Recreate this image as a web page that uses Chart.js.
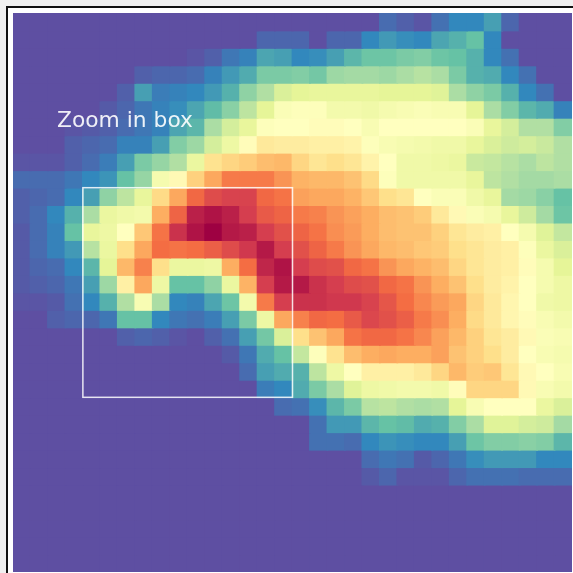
<!DOCTYPE html>
<html>
<head>
<meta charset="utf-8">
<script src="https://cdn.jsdelivr.net/npm/chart.js@4"></script>
<style>
    html, body { margin: 0; padding: 0; width: 573px; height: 573px; overflow: hidden; background: #f0f0f0; }
    #frame { position: absolute; left: 6px; top: 6px; width: 567px; height: 567px; border-left: 2px solid #111; border-top: 2px solid #111; background: #fff; }
    #chart { display: block; filter: blur(0.6px); }
</style>
</head>
<body>
<div id="frame"><canvas id="chart" width="565" height="565"></canvas></div>
<script>
// Cell intensities, 0 = purple end of the colormap, 100 = dark red end
const row00 = [0,0,0,0,0,0,0,0,0,0,0,0,0,0,0,0,0,0,0,0,0,5,3,1,6,10,10,14,4,0,0,0];
const row01 = [0,0,0,0,0,0,0,0,0,0,0,0,0,0,4,4,4,0,4,4,10,13,11,10,15,17,20,10,0,0,0,0];
const row02 = [0,0,0,0,0,0,0,0,0,0,1,3,7,9,15,14,10,11,14,18,21,21,23,24,21,20,17,10,6,0,0,0];
const row03 = [0,0,0,0,0,0,0,3,4,4,5,9,13,16,23,23,24,22,28,29,29,28,30,32,30,23,17,16,10,6,0,0];
const row04 = [0,0,0,0,0,0,3,14,8,9,10,13,17,26,31,38,40,41,41,41,41,40,40,40,39,30,26,23,17,10,6,0];
const row05 = [0,0,0,0,0,2,4,7,9,11,15,19,25,33,40,48,49,49,45,45,44,46,47,48,47,47,40,30,24,18,16,9];
const row06 = [0,0,0,1,2,3,5,7,9,15,18,30,37,41,49,50,50,51,51,50,47,50,50,50,50,50,48,41,37,31,31,24];
const row07 = [0,0,0,3,4,5,9,9,14,24,28,37,43,51,57,56,56,55,55,54,49,47,46,45,44,44,41,38,36,37,35,31];
const row08 = [1,1,1,3,5,8,14,23,27,31,42,59,62,64,67,68,62,58,60,58,54,50,44,44,43,42,35,34,32,30,33,31];
const row09 = [5,5,5,7,10,12,20,27,46,52,63,71,78,78,78,74,69,68,68,66,61,49,44,44,44,44,41,33,31,29,29,30];
const row10 = [3,4,5,10,14,26,33,41,61,71,81,87,89,89,81,79,72,71,71,69,65,60,58,50,48,48,44,41,29,28,25,20];
const row11 = [3,5,10,17,30,42,44,45,70,82,95,97,95,90,84,82,78,77,74,72,70,67,66,64,57,52,48,46,41,36,29,21];
const row12 = [2,5,9,20,41,43,50,65,79,92,97,100,96,95,90,86,82,79,75,73,70,67,66,66,63,58,56,55,50,46,39,34];
const row13 = [2,5,9,13,32,42,60,71,80,79,80,83,87,91,96,90,86,82,78,74,71,68,67,65,64,60,58,56,55,49,42,38];
const row14 = [2,4,5,10,18,40,68,77,60,42,42,43,70,80,94,97,90,87,86,81,79,74,71,69,67,62,58,56,55,51,46,40];
const row15 = [2,3,4,7,14,28,55,71,43,20,20,26,42,69,90,96,96,92,90,87,86,81,79,74,70,66,60,56,54,50,46,43];
const row16 = [1,1,2,6,10,17,31,47,30,10,9,15,21,45,78,90,92,92,91,91,89,85,80,76,73,71,62,57,53,50,44,43];
const row17 = [0,0,3,4,4,7,20,20,10,7,6,8,14,23,43,71,77,81,80,84,88,86,83,78,75,70,61,57,53,51,47,45];
const row18 = [0,0,0,0,0,0,3,4,3,1,0,3,6,14,22,38,60,66,71,79,81,81,79,76,72,68,63,58,56,52,48,47];
const row19 = [0,0,0,0,0,0,0,0,0,0,0,0,2,7,16,20,34,49,59,67,70,71,70,70,72,66,63,60,56,50,47,46];
const row20 = [0,0,0,0,0,0,0,0,0,0,0,0,0,5,14,16,17,33,43,50,55,55,55,57,62,68,64,65,58,52,50,47];
const row21 = [0,0,0,0,0,0,0,0,0,0,0,0,0,0,8,10,16,23,30,39,43,44,45,45,44,51,62,62,62,52,47,45];
const row22 = [0,0,0,0,0,0,0,0,0,0,0,0,0,0,0,5,6,11,18,23,32,33,31,30,31,40,47,50,50,50,42,38];
const row23 = [0,0,0,0,0,0,0,0,0,0,0,0,0,0,0,0,0,6,13,13,18,20,19,16,17,24,30,39,39,37,36,29];
const row24 = [0,0,0,0,0,0,0,0,0,0,0,0,0,0,0,0,0,6,6,5,10,12,11,10,10,14,21,24,24,25,24,18];
const row25 = [0,0,0,0,0,0,0,0,0,0,0,0,0,0,0,0,0,0,0,0,5,7,6,2,4,7,11,13,13,13,10,10];
const row26 = [0,0,0,0,0,0,0,0,0,0,0,0,0,0,0,0,0,0,0,0,2,4,1,1,1,4,6,6,6,5,5,5];
const row27 = [0,0,0,0,0,0,0,0,0,0,0,0,0,0,0,0,0,0,0,0,0,0,0,0,0,0,0,0,0,0,0,0];
const row28 = [0,0,0,0,0,0,0,0,0,0,0,0,0,0,0,0,0,0,0,0,0,0,0,0,0,0,0,0,0,0,0,0];
const row29 = [0,0,0,0,0,0,0,0,0,0,0,0,0,0,0,0,0,0,0,0,0,0,0,0,0,0,0,0,0,0,0,0];
const row30 = [0,0,0,0,0,0,0,0,0,0,0,0,0,0,0,0,0,0,0,0,0,0,0,0,0,0,0,0,0,0,0,0];
const row31 = [0,0,0,0,0,0,0,0,0,0,0,0,0,0,0,0,0,0,0,0,0,0,0,0,0,0,0,0,0,0,0,0];

const rows = [row00, row01, row02, row03, row04, row05, row06, row07, row08, row09, row10,
              row11, row12, row13, row14, row15, row16, row17, row18, row19, row20, row21,
              row22, row23, row24, row25, row26, row27, row28, row29, row30, row31];
const columns = row00.map((_, i) => i);

// Zoom box, in cell units
const boxColumns = [4, 16];
const boxRows = [10, 22];
const boxLabel = 'Zoom in box';

// Spectral colormap stops, reversed
const spectral = [
    [94, 79, 162], [50, 136, 189], [102, 194, 165], [171, 221, 164], [230, 245, 152], [255, 255, 191],
    [254, 224, 139], [253, 174, 97], [244, 109, 67], [213, 62, 79], [158, 1, 66]
];

function cellColor(value) {
    const pos = value / 10;
    const lo = Math.min(Math.floor(pos), spectral.length - 2);
    const t = pos - lo;
    const rgb = spectral[lo].map((c, i) => Math.round(c + (spectral[lo + 1][i] - c) * t));
    return `rgb(${rgb[0]}, ${rgb[1]}, ${rgb[2]})`;
}

// Draws the zoom box and its label on top of the cells
const zoomBox = {
    id: 'zoomBox',
    afterDatasetsDraw(chart) {
        const { ctx, scales: { x, y } } = chart;
        const left = x.getPixelForValue(boxColumns[0] - 0.5);
        const right = x.getPixelForValue(boxColumns[1] - 0.5);
        const top = y.getPixelForValue(boxRows[0]);
        const bottom = y.getPixelForValue(boxRows[1]);
        ctx.save();
        ctx.strokeStyle = 'rgba(255, 255, 255, 0.85)';
        ctx.lineWidth = 1.5;
        ctx.strokeRect(left, top, right - left, bottom - top);
        ctx.fillStyle = 'rgba(255, 255, 255, 0.9)';
        ctx.font = '21.8px "DejaVu Sans"';
        ctx.textBaseline = 'alphabetic';
        ctx.fillText(boxLabel, x.getPixelForValue(2.02), y.getPixelForValue(6.55));
        ctx.restore();
    }
};

new Chart(document.getElementById('chart').getContext('2d'), {
    type: 'bar',
    data: {
        labels: columns,
        // Neighbouring bars overlap a little so antialiasing leaves no seams
        datasets: rows.map((row, r) => ({
            data: row.map(() => [r - 0.05, r + 1.05]),
            backgroundColor: row.map(cellColor),
            borderWidth: 0,
            barPercentage: 1.1,
            categoryPercentage: 1
        }))
    },
    options: {
        responsive: false,
        animation: false,
        layout: { padding: { left: 5, top: 5, right: 1, bottom: 1 } },
        plugins: { legend: { display: false }, tooltip: { enabled: false } },
        scales: {
            x: { display: false, stacked: true },
            y: { display: false, min: 0, max: 32, reverse: true }
        }
    },
    plugins: [zoomBox]
});
</script>
</body>
</html>
